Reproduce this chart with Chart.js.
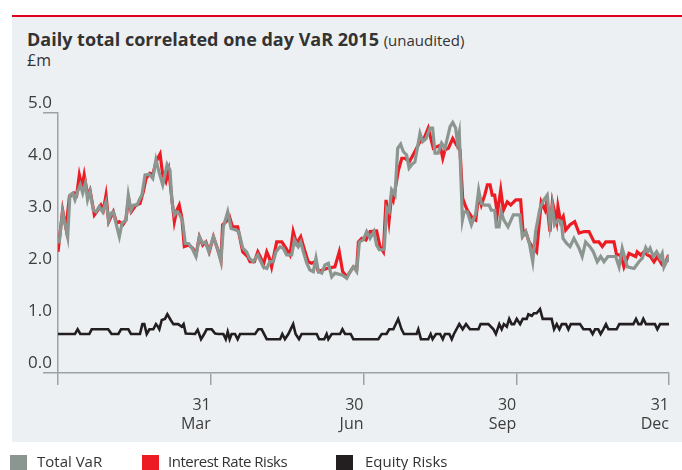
<!DOCTYPE html>
<html>
<head>
<meta charset="utf-8">
<script src="https://cdn.jsdelivr.net/npm/chart.js@4.4.1/dist/chart.umd.min.js"></script>
<style>
  body { margin: 0; width: 682px; height: 470px; overflow: hidden; background: #fff; position: relative;
         font-family: 'Open Sans', sans-serif; color: #333; }
  #panel { position: absolute; left: 12px; top: 15px; width: 670px; height: 425px; background: #edf0f2;
           border-top: 2px solid #e3001a; }
  #title { position: absolute; left: 27px; top: 27px; font-size: 18px; white-space: nowrap; }
  #title b { font-weight: 700; }
  #title span { font-size: 15px; }
  #unit { position: absolute; left: 27px; top: 49px; font-size: 16px; }
  canvas { position: absolute; left: 0; top: 0; }
  .box { position: absolute; top: 455px; width: 17px; height: 17px; }
  .lbl { position: absolute; top: 451px; font-size: 15px; white-space: nowrap; }
</style>
</head>
<body>
<div id="panel"></div>
<div id="title"><b>Daily total correlated one day VaR 2015</b> <span>(unaudited)</span></div>
<div id="unit">£m</div>
<canvas id="chart" width="682" height="470"></canvas>
<div class="box" style="left:10px;background:#8c9690"></div><div class="lbl" style="left:37px">Total VaR</div>
<div class="box" style="left:142px;background:#ed1c24"></div><div class="lbl" style="left:168px;letter-spacing:-0.5px">Interest Rate Risks</div>
<div class="box" style="left:336px;background:#231f20"></div><div class="lbl" style="left:365px">Equity Risks</div>
<script>
// x = trading day of 2015 (0..252, quarter ends at 63/126/189/252), y = £m
const totalVar = [
  [0,2.52],[0.5,2.52],[1.9,3.10],[3.0,2.85],[4.0,2.62],[4.9,3.42],[6.1,3.46],[7.0,3.33],[8.1,3.49],[9.2,3.62],
  [10.2,3.46],[11.3,3.65],[12.2,3.33],[13.2,3.49],[14.6,3.13],[15.7,3.10],[17.0,3.20],[18.4,3.10],[19.8,3.29],[20.9,2.94],
  [21.9,3.07],[22.8,3.10],[23.9,2.88],[25.3,2.62],[26.4,2.88],[28.0,2.94],[29.0,3.42],[30.1,3.13],[31.2,3.23],[32.6,3.23],
  [33.5,3.33],[34.6,3.42],[35.9,3.81],[37.7,3.82],[39.1,3.74],[40.4,4.10],[41.8,3.84],[43.2,3.62],[45.0,4.01],[46.2,3.90],
  [47.0,3.29],[48.0,3.04],[49.0,3.10],[50.3,3.04],[51.4,2.91],[52.5,2.49],[53.9,2.49],[55.3,2.40],[56.9,2.24],[58.3,2.62],
  [59.7,2.49],[60.8,2.52],[62.2,2.33],[64.1,2.62],[65.9,2.37],[67.2,2.14],[68.2,2.81],[70.0,3.10],[71.4,2.78],[73.4,2.75],
  [74.5,2.72],[76.2,2.40],[77.8,2.33],[78.9,2.21],[80.5,2.14],[82.4,2.27],[83.7,2.14],
  [84.7,2.04],[86.1,2.01],[87.4,2.14],[88.8,2.14],[89.9,2.33],[91.6,2.43],[92.9,2.40],[94.3,2.27],[96.4,2.27],[97.5,2.56],
  [99.1,2.43],[100.1,2.52],[101.2,2.33],[102.6,2.11],[103.9,1.98],[105.3,1.95],[106.4,2.21],[107.4,1.95],[108.8,1.92],[110.1,2.08],
  [111.5,2.11],[112.9,1.85],[114.2,1.92],[117.4,1.88],[119.1,1.82],[120.4,1.94],[121.8,2.04],[123.2,1.95],[124.3,2.52],[125.9,2.56],
  [127.3,2.72],[128.7,2.59],[130.3,2.72],[131.4,2.46],[132.5,2.37],[134.5,2.37],[135.6,3.17],[136.6,3.10],[137.6,3.52],[139.0,3.42],
  [140.1,4.32],[141.3,4.40],[142.4,4.26],[143.8,4.19],[144.8,3.94],[145.9,4.01],[147.2,4.06],[149.3,4.61],[150.4,4.45],[151.8,4.51],
  [153.4,4.71],[154.5,4.71],[155.5,4.23],[156.8,4.23],[158.2,4.42],[159.6,4.32],[161.7,4.74],[162.8,4.82],[164.0,4.71],[164.7,4.45],
  [165.5,4.63],[166.8,2.94],[167.5,3.10],
  [168.8,3.10],[170.5,2.85],[172.3,3.07],[173.5,3.52],[174.6,3.26],[176.0,3.23],[177.8,3.23],[178.7,3.13],[180.1,3.13],[180.8,2.81],
  [181.9,2.81],[182.8,3.10],[183.9,2.94],[185.6,2.81],[187.8,3.04],[190.5,3.04],[191.5,2.62],[192.9,2.72],[194.3,2.52],[195.8,2.14],
  [197.0,2.72],[198.8,3.17],[200.4,3.33],[201.8,3.42],[202.9,2.85],[203.9,3.20],[204.8,2.85],[206.2,2.94],[207.6,2.91],[208.3,2.59],
  [209.8,2.49],[211.2,2.43],[212.8,2.59],[214.9,2.40],[216.2,2.24],[217.6,2.52],[219.4,2.43],[220.8,2.33],[222.4,2.14],[223.8,2.24],
  [225.2,2.14],[226.8,2.24],[230.0,2.24],[231.4,2.04],[232.7,2.40],[234.8,2.04],[237.6,2.01],[239.6,2.14],[241.0,2.21],[242.4,2.41],
  [243.3,2.33],[244.2,2.40],[245.5,2.24],[246.9,2.33],[248.3,2.21],[249.2,2.30],[249.9,2.04],[251.6,2.21],[252,2.14]
];

const interestRate = [
  [0,2.33],[1.9,3.13],[3.3,2.78],[4.7,3.39],[6.7,3.46],[7.7,3.42],[8.8,3.81],[9.9,3.58],[10.8,3.81],[12.2,3.42],
  [13.2,3.52],[15.0,3.04],[16.4,3.13],[17.7,3.23],[18.7,3.13],[19.8,3.42],[20.9,2.91],[22.8,3.10],[24.2,2.88],[25.3,2.91],
  [26.7,2.85],[28.0,2.94],[29.1,3.36],[30.2,3.10],[32.2,3.23],[33.8,3.26],[35.2,3.49],[36.3,3.74],[37.9,3.84],[39.1,3.81],
  [40.4,4.06],[42.1,4.21],[43.2,3.81],[44.5,3.68],[45.7,3.90],[47.0,3.33],[48.0,2.91],[49.0,3.13],[50.0,3.23],[51.1,2.98],
  [52.1,2.43],[53.9,2.46],[55.6,2.40],[56.9,2.27],[58.3,2.62],[59.7,2.46],[61.0,2.52],[62.4,2.33],[64.1,2.62],[65.9,2.37],
  [67.2,2.17],[67.9,2.85],[69.3,2.91],[70.7,3.01],[72.0,2.81],[74.1,2.81],[76.2,2.33],[78.2,2.24],[79.2,2.14],[81.0,2.14],
  [82.4,2.33],[83.7,2.21],[84.7,2.08],[86.1,2.33],[87.2,2.21],[88.1,2.04],[90.2,2.52],[92.3,2.52],[94.0,2.40],[95.7,2.27],
  [97.0,2.72],[98.4,2.49],[100.1,2.62],[101.9,2.33],[103.2,2.14],[104.6,2.11],[106.0,2.14],[107.4,1.95],[110.8,2.01],[114.2,2.04],
  [116.0,2.33],[117.4,1.95],[119.1,1.85],[121.8,2.04],[123.2,2.01],[123.9,2.52],[125.3,2.59],[127.0,2.56],[128.7,2.72],[131.4,2.73],
  [132.8,2.43],[134.2,2.33],[135.3,3.33],[136.5,2.91],[137.6,3.42],[138.3,3.33],[140.4,3.90],[141.8,4.13],[143.1,4.13],[144.9,4.06],
  [147.2,4.26],[149.3,4.45],[150.7,4.48],[152.7,4.71],[154.8,4.32],[157.6,4.38],[158.7,4.13],[159.6,4.29],[161.0,4.32],[162.8,4.51],
  [164.4,4.38],[165.8,4.29],[166.9,3.36],[167.9,3.23],[168.8,3.13],[170.9,2.98],[172.3,2.94],[173.5,3.42],[174.6,3.23],[176.0,3.42],
  [177.1,3.62],[178.2,3.62],[179.1,3.42],[180.1,3.42],[181.2,3.07],[182.6,3.52],[183.7,3.13],[185.3,3.29],[186.7,3.23],[188.8,3.33],
  [190.8,3.33],[191.9,2.65],[192.9,2.72],[194.3,2.52],[195.6,2.43],[197.4,2.33],[199.3,3.29],[200.9,3.13],[201.6,3.29],[202.9,2.72],
  [203.9,3.29],[205.7,2.91],[206.2,3.20],[207.3,2.91],[208.4,3.01],[209.4,2.75],[211.2,2.85],[213.1,2.91],[214.9,2.69],[217.0,2.72],
  [219.0,2.72],[221.1,2.52],[223.1,2.52],[224.5,2.43],[225.9,2.52],[229.3,2.52],[230.4,2.27],[232.1,2.27],[233.4,2.04],[235.5,2.30],
  [236.9,2.27],[238.3,2.24],[238.9,2.33],[240.3,2.27],[241.7,2.33],[243.1,2.27],[244.4,2.24],[245.8,2.14],[247.2,2.24],[249.2,2.08],
  [250.2,2.08],[251.3,2.21],[252,2.14]
];

const equity = [
  [0,0.75],[7.0,0.75],[8.1,0.84],[9.2,0.75],[12.9,0.75],[13.9,0.84],[20.7,0.84],[22.1,0.75],[24.9,0.75],[26.0,0.84],
  [29.0,0.84],[30.1,0.75],[33.8,0.75],[34.8,0.94],[35.6,0.94],[36.6,0.75],[37.7,0.84],[39.3,0.84],[40.4,0.94],[41.1,0.90],
  [41.8,0.84],[42.8,1.02],[44.1,1.04],[45.1,1.13],[46.6,1.01],[47.6,0.94],[49.6,0.94],[51.0,0.89],[51.8,0.94],[52.7,0.76],
  [56.5,0.75],[57.6,0.83],[59.0,0.65],[60.3,0.75],[61.3,0.84],[63.4,0.84],[64.8,0.76],[66.1,0.75],[68.2,0.75],[69.2,0.65],
  [70.0,0.79],[70.8,0.65],[71.6,0.75],[73.0,0.75],[74.1,0.65],[75.1,0.75],[81.3,0.75],[82.6,0.84],[84.0,0.84],[86.1,0.65],
  [91.6,0.65],[92.5,0.75],[93.6,0.65],[95.0,0.75],[97.0,0.94],[98.0,0.75],[99.4,0.65],[100.5,0.75],[106.7,0.75],[107.7,0.65],
  [109.8,0.65],[110.8,0.75],[111.5,0.65],[112.9,0.75],[116.3,0.75],[117.3,0.84],[118.4,0.75],[120.7,0.75],[121.8,0.65],[132.1,0.65],
  [133.5,0.75],[135.5,0.75],[136.6,0.84],[138.3,0.84],[140.3,1.04],[141.7,0.84],[142.7,0.75],[147.9,0.75],[148.6,0.84],[149.7,0.65],
  [152.7,0.65],[153.7,0.75],[154.5,0.65],[155.9,0.75],[157.6,0.75],[158.7,0.65],[159.6,0.75],[161.4,0.75],[162.4,0.65],[163.3,0.75],
  [165.5,0.94],[166.9,0.84],[168.3,0.94],[169.9,0.84],[173.4,0.84],[174.3,0.94],[177.5,0.94],[179.6,0.84],[180.6,0.75],[182.0,0.94],
  [183.0,0.84],[183.9,0.94],[185.1,0.89],[186.1,1.04],[187.1,0.94],[188.1,0.94],[189.2,1.04],[190.6,0.94],[191.7,1.04],[193.3,1.04],
  [194.0,1.13],[195.4,1.10],[196.3,1.15],[197.4,1.15],[198.8,1.23],[199.9,1.04],[203.6,1.04],[204.6,0.84],[205.7,0.94],[206.8,0.84],
  [207.8,0.94],[209.5,0.94],[210.5,0.84],[211.5,0.94],[215.3,0.94],[216.7,0.84],[219.4,0.84],[220.5,0.75],[221.5,0.84],[222.8,0.84],
  [223.8,0.75],[224.9,0.84],[226.0,0.94],[227.0,0.84],[230.4,0.84],[231.5,0.94],[237.3,0.94],[238.4,1.04],[239.4,0.94],[240.5,0.94],
  [241.4,1.04],[242.5,0.94],[246.2,0.94],[247.2,0.84],[248.3,0.94],[252,0.94]
];

const xTickPos = [0, 63, 126, 189, 252];
const xTickLabels = ['', ['31', 'Mar'], ['30', 'Jun'], ['30', 'Sep'], ['31', 'Dec']];

const axisGray = '#9ba4a4';
const toPoints = arr => arr.map(p => ({ x: p[0], y: p[1] }));

Chart.defaults.font.family = "'Open Sans', sans-serif";

new Chart(document.getElementById('chart'), {
  type: 'line',
  data: {
    datasets: [
      { label: 'Total VaR', data: toPoints(totalVar), borderColor: '#8c9690', borderWidth: 3.2, pointRadius: 0, tension: 0 },
      { label: 'Interest Rate Risks', data: toPoints(interestRate), borderColor: '#ed1c24', borderWidth: 3.2, pointRadius: 0, tension: 0 },
      { label: 'Equity Risks', data: toPoints(equity), borderColor: '#231f20', borderWidth: 2.6, pointRadius: 0, tension: 0 }
    ]
  },
  options: {
    responsive: false,
    animation: false,
    layout: { padding: { left: 0, top: 113, right: 13, bottom: 0 } },
    plugins: { legend: { display: false }, tooltip: { enabled: false } },
    scales: {
      x: {
        type: 'linear', min: 0, max: 252,
        afterBuildTicks: s => { s.ticks = xTickPos.map(v => ({ value: v })); },
        afterFit: s => { s.height = 97; },
        ticks: {
          autoSkip: false, maxRotation: 0, align: 'end', padding: 11, color: '#3d3d3d',
          font: { size: 16 }, callback: (v, i) => xTickLabels[i]
        },
        grid: { drawOnChartArea: false, drawTicks: true, tickLength: 12, color: axisGray, lineWidth: 1.5 },
        border: { display: true, color: axisGray, width: 1.5 }
      },
      y: {
        min: 0, max: 5,
        afterFit: s => { s.width = 58; },
        ticks: { stepSize: 1, padding: -9, labelOffset: -10, color: '#3d3d3d', font: { size: 17 }, callback: v => v.toFixed(1) },
        grid: {
          drawOnChartArea: false, tickLength: 15, lineWidth: 1.5,
          color: c => (c.tick && (c.tick.value === 0 || c.tick.value === 5)) ? axisGray : 'rgba(0,0,0,0)'
        },
        border: { display: true, color: axisGray, width: 1.5 }
      }
    }
  }
});
</script>
</body>
</html>
